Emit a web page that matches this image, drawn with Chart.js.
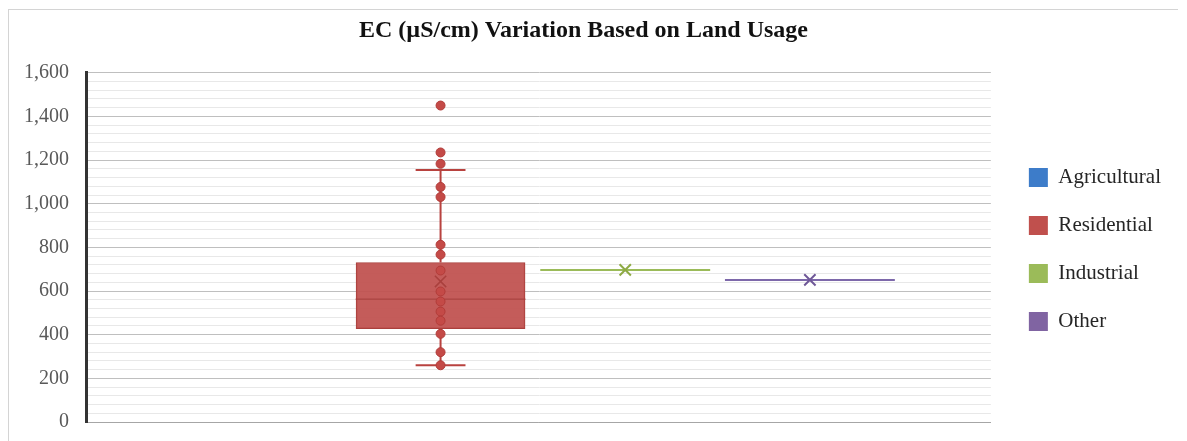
<!DOCTYPE html>
<html>
<head>
<meta charset="utf-8">
<script src="https://cdn.jsdelivr.net/npm/chart.js@4/dist/chart.umd.min.js"></script>
<style>
    html, body { margin: 0; padding: 0; background: #ffffff; overflow: hidden; }
    #frame {
        position: absolute;
        left: 8px;
        top: 9px;
        width: 1169px;
        height: 441px;
        border-top: 1px solid #d4d4d4;
        border-left: 1px solid #d4d4d4;
    }
    #chart { display: block; }
</style>
</head>
<body>
<div id="frame"><canvas id="chart" width="1169" height="441"></canvas></div>
<script>
// Land usage series (legend order)
const landUses = ['Agricultural', 'Residential', 'Industrial', 'Other'];
const seriesColors = ['#3d7cc9', '#c0504d', '#9bbb59', '#8064a2'];

// Residential box: q1, median, q3
const residentialBox = [428, 563, 731];
// Residential whiskers: low, high
const residentialWhiskers = [260, 1155];
const residentialMean = [644];
// Residential sample points (inner points + outliers)
const residentialPoints = [1450, 1235, 1183, 1077, 1031, 812, 767, 694, 598, 552, 506, 464, 404, 320, 260];

// Single-value series
const industrialValues = [697];
const otherValues = [651];

// Half box width and half cap width, in slot units
const BOX_HALF = 0.46;
const CAP_HALF = 0.135;

const SERIF = "'Liberation Serif', 'Times New Roman', serif";

function slot(name) {
    return landUses.indexOf(name) + 1;
}

function hLine(x, half, y) {
    return [{ x: x - half, y: y }, { x: x + half, y: y }];
}

function lineDataset(data, color, width, order) {
    return {
        type: 'line',
        data: data,
        borderColor: color,
        borderWidth: width,
        pointRadius: 0,
        fill: false,
        order: order
    };
}

function buildDatasets() {
    const rx = slot('Residential');
    const ix = slot('Industrial');
    const ox = slot('Other');
    const [q1, med, q3] = residentialBox;
    const [lo, hi] = residentialWhiskers;

    return [
        {
            type: 'scatter',
            data: residentialPoints.map(v => ({ x: rx, y: v })),
            pointRadius: 4.5,
            pointBackgroundColor: '#c44a47',
            pointBorderColor: '#b13b38',
            pointBorderWidth: 1,
            order: 0
        },
        {
            type: 'scatter',
            data: residentialMean.map(v => ({ x: rx, y: v })),
            pointStyle: 'crossRot',
            pointRadius: 8,
            pointBorderColor: '#a9403d',
            pointBorderWidth: 1.5,
            order: 0
        },
        {
            type: 'scatter',
            data: industrialValues.map(v => ({ x: ix, y: v })),
            pointStyle: 'crossRot',
            pointRadius: 8,
            pointBorderColor: '#8eaa45',
            pointBorderWidth: 2,
            order: 0
        },
        {
            type: 'scatter',
            data: otherValues.map(v => ({ x: ox, y: v })),
            pointStyle: 'crossRot',
            pointRadius: 8,
            pointBorderColor: '#6f5898',
            pointBorderWidth: 2,
            order: 0
        },
        lineDataset(hLine(rx, BOX_HALF, med), '#a53f3c', 1, 1),
        lineDataset([{ x: rx, y: q3 }, { x: rx, y: hi }], '#b8423f', 2, 2),
        lineDataset([{ x: rx, y: lo }, { x: rx, y: q1 }], '#b8423f', 2, 2),
        lineDataset(hLine(rx, CAP_HALF, hi), '#b8423f', 2, 2),
        lineDataset(hLine(rx, CAP_HALF, lo), '#b8423f', 2, 2),
        lineDataset(hLine(ix, BOX_HALF, industrialValues[0]), '#9bbb59', 2, 2),
        lineDataset(hLine(ox, BOX_HALF, otherValues[0]), '#7d68aa', 2, 2),
        {
            type: 'bar',
            data: [{ x: rx, y: [q1, q3] }],
            barThickness: 169,
            backgroundColor: 'rgba(192, 80, 77, 0.93)',
            borderColor: '#a9403d',
            borderWidth: 1,
            borderSkipped: false,
            order: 3
        }
    ];
}

function legendLabels() {
    return landUses.map((name, i) => ({
        text: name,
        fillStyle: seriesColors[i],
        strokeStyle: seriesColors[i],
        lineWidth: 0,
        fontColor: '#262626',
        hidden: false,
        datasetIndex: i
    }));
}

// nudge legend right and down like the reference
const legendShift = {
    id: 'legendShift',
    afterLayout(chart) {
        chart.legend.left += 11;
        chart.legend.right += 11;
        chart.legend.top += 19;
        chart.legend.bottom += 19;
    }
};

function init() {
    const ctx = document.getElementById('chart').getContext('2d');

    new Chart(ctx, {
        data: { datasets: buildDatasets() },
        plugins: [legendShift],
        options: {
            responsive: false,
            animation: false,
            layout: { padding: { left: -2, right: 18, top: 0, bottom: 0 } },
            plugins: {
                title: {
                    display: true,
                    text: 'EC (µS/cm) Variation Based on Land Usage',
                    color: '#111111',
                    font: { family: SERIF, size: 24, weight: 'bold' },
                    padding: { top: 6, bottom: 28 }
                },
                legend: {
                    position: 'right',
                    labels: {
                        generateLabels: legendLabels,
                        boxWidth: 19,
                        boxHeight: 19,
                        padding: 27,
                        color: '#262626',
                        font: { family: SERIF, size: 21 }
                    }
                },
                tooltip: { enabled: false }
            },
            scales: {
                x: {
                    type: 'linear',
                    min: 0.08,
                    max: 4.98,
                    offset: false,
                    grid: { display: false, drawTicks: false },
                    ticks: { display: false, padding: 0 },
                    border: { display: true, color: '#a6a6a6', width: 1 }
                },
                y: {
                    min: 0,
                    max: 1600,
                    ticks: {
                        stepSize: 40,
                        autoSkip: false,
                        padding: 17,
                        color: '#595959',
                        font: { family: SERIF, size: 20 },
                        callback: v => (v % 200 === 0 ? v.toLocaleString('en-US') : '')
                    },
                    grid: {
                        drawTicks: false,
                        color: c => (c.tick && c.tick.value % 200 === 0 ? '#bfbfbf' : '#e8e8e8'),
                        lineWidth: 1
                    },
                    border: { display: true, color: '#333333', width: 3 }
                }
            }
        }
    });
}

document.addEventListener('DOMContentLoaded', init);
</script>
</body>
</html>
